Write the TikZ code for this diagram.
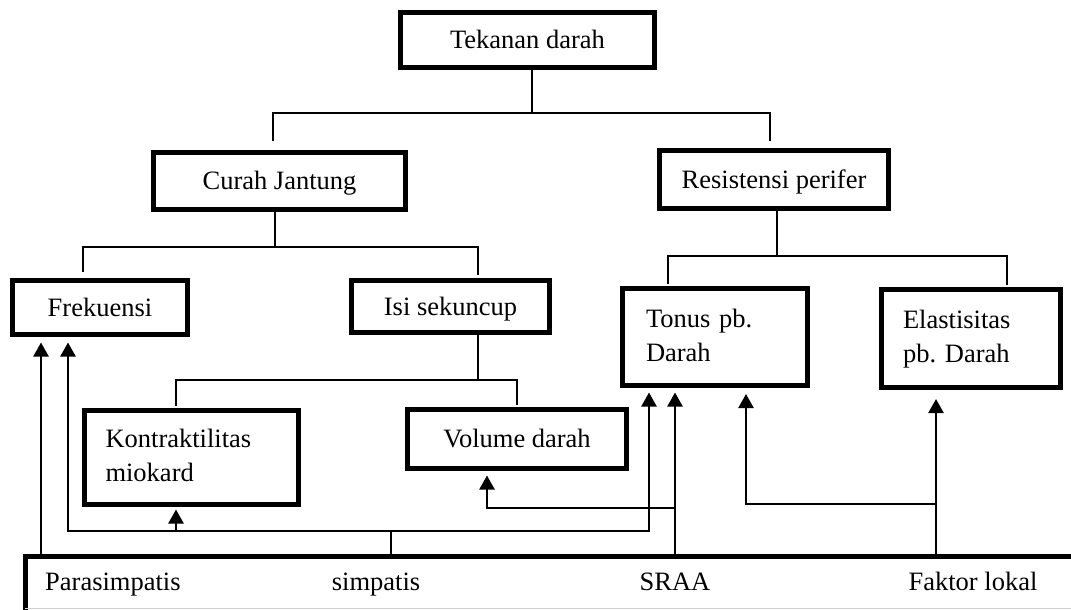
\documentclass[tikz,border=0pt]{standalone}
\usepackage{fontspec}
\setmainfont{Liberation Serif}
\usetikzlibrary{arrows.meta,calc}
\frenchspacing

\tikzset{
  box/.style={draw, line width=5pt, inner sep=0pt, align=center,
    font=\fontsize{26.5pt}{31pt}\selectfont, text height=17pt, text depth=0pt},
  lbox/.style={draw, line width=5pt, inner ysep=0pt, align=left,
    font=\fontsize{26.5pt}{31pt}\selectfont, text height=18pt, text depth=38pt},
  lbl/.style={inner sep=0pt, anchor=base, font=\fontsize{26.5pt}{31pt}\selectfont},
  tree/.style={line width=1.6pt},
  feed/.style={line width=2.3pt},
  feedtip/.style={line width=2.3pt, -{Triangle[length=14pt,width=15pt]}},
}

\begin{document}
\begin{tikzpicture}[x=1pt,y=-1pt]
\useasboundingbox (0,0) rectangle (1071,610);
\fill[white] (0,0) rectangle (1071,610);
\clip (0,0) rectangle (1071,610);

% boxes of the hierarchy
\node[box, minimum width=254pt, minimum height=55pt] (tek) at (527.5,40) {Tekanan darah};
\node[box, minimum width=252pt, minimum height=57pt] (cj) at (279.5,181) {Curah Jantung};
\node[box, minimum width=229pt, minimum height=58pt] (rp) at (774,179.5) {Resistensi perifer};
\node[box, minimum width=175pt, minimum height=54pt] (fr) at (100,307.5) {Frekuensi};
\node[box, minimum width=198pt, minimum height=52pt] (is) at (450.5,306.5) {Isi sekuncup};
\node[box, minimum width=219pt, minimum height=59pt] (vd) at (517,439) {Volume darah};
\node[lbox, inner xsep=21pt, text width=172pt, minimum width=214pt, minimum height=94pt] (km) at (191.5,457.5) {Kontraktilitas\\[3pt]miokard};
\node[lbox, inner xsep=23.5pt, text width=138pt, minimum width=185pt, minimum height=97pt] (tp) at (715,337) {Tonus pb.\\[3pt]Darah};
\node[lbox, inner xsep=21.5pt, text width=136pt, minimum width=179pt, minimum height=98pt] (el) at (971,338.5) {Elastisitas\\[3pt]pb. Darah};

% source bar at the bottom
\node[draw, line width=5pt, minimum width=1100pt, minimum height=100pt, inner sep=0pt, anchor=north west] (src) at (22.5,553.5) {};
\draw[gray!35, line width=1.5pt] (25,608.5) -- (1071,608.5);
\node[lbl, anchor=base west] (para) at (45,590) {Parasimpatis};
\node[lbl] (simp) at (376,590) {simpatis};
\node[lbl] (sraa) at (675,590) {SRAA};
\node[lbl] (fl) at (973,590) {Faktor lokal};

% tree connectors
\draw[tree] (tek.south -| 532,0) -- (532,113) coordinate (j1);
\draw[tree] ($(cj.north -| 273,0)+(0,-9.5)$) |- (j1) -| ($(rp.north -| 770,0)+(0,-7.5)$);
\draw[tree] (cj.south -| 275,0) -- (275,247) coordinate (j2);
\draw[tree] ($(fr.north -| 83,0)+(0,-6.5)$) |- (j2) -| ($(is.north -| 478,0)+(0,-3.5)$);
\draw[tree] (is.south -| 478,0) -- (478,380) coordinate (j3);
\draw[tree] ($(km.north -| 176,0)+(0,-2.5)$) |- (j3) -| ($(vd.north -| 517,0)+(0,-2.5)$);
\draw[tree] (rp.south -| 777,0) -- (777,256) coordinate (j4);
\draw[tree] ($(tp.north -| 668,0)+(0,-2.5)$) |- (j4) -| ($(el.north -| 1007,0)+(0,-2.5)$);

% parasimpatis
\draw[feedtip, shorten >=5.5pt] (src.north -| 41,0) -- (fr.south -| 41,0);
% simpatis
\draw[feed] (src.north -| 391,0) -- (391,531) coordinate (s1);
\draw[feedtip, shorten >=5.5pt] (s1) -| (fr.south -| 68,0);
\draw[feedtip, shorten >=4.5pt] (s1) -| (tp.south -| 649,0);
\draw[feedtip, shorten >=2.5pt] (176,532) -- (km.south -| 176,0);
% SRAA
\draw[feedtip, shorten >=4.5pt] (src.north -| 675,0) -- (tp.south -| 675,0);
\draw[feedtip, shorten >=4.5pt] (675,508) -| (vd.south -| 487,0);
% faktor lokal
\draw[feedtip, shorten >=9pt] (src.north -| 936,0) -- (el.south -| 936,0);
\draw[feedtip, shorten >=6pt] (936,504) -| (tp.south -| 746,0);
\end{tikzpicture}
\end{document}
